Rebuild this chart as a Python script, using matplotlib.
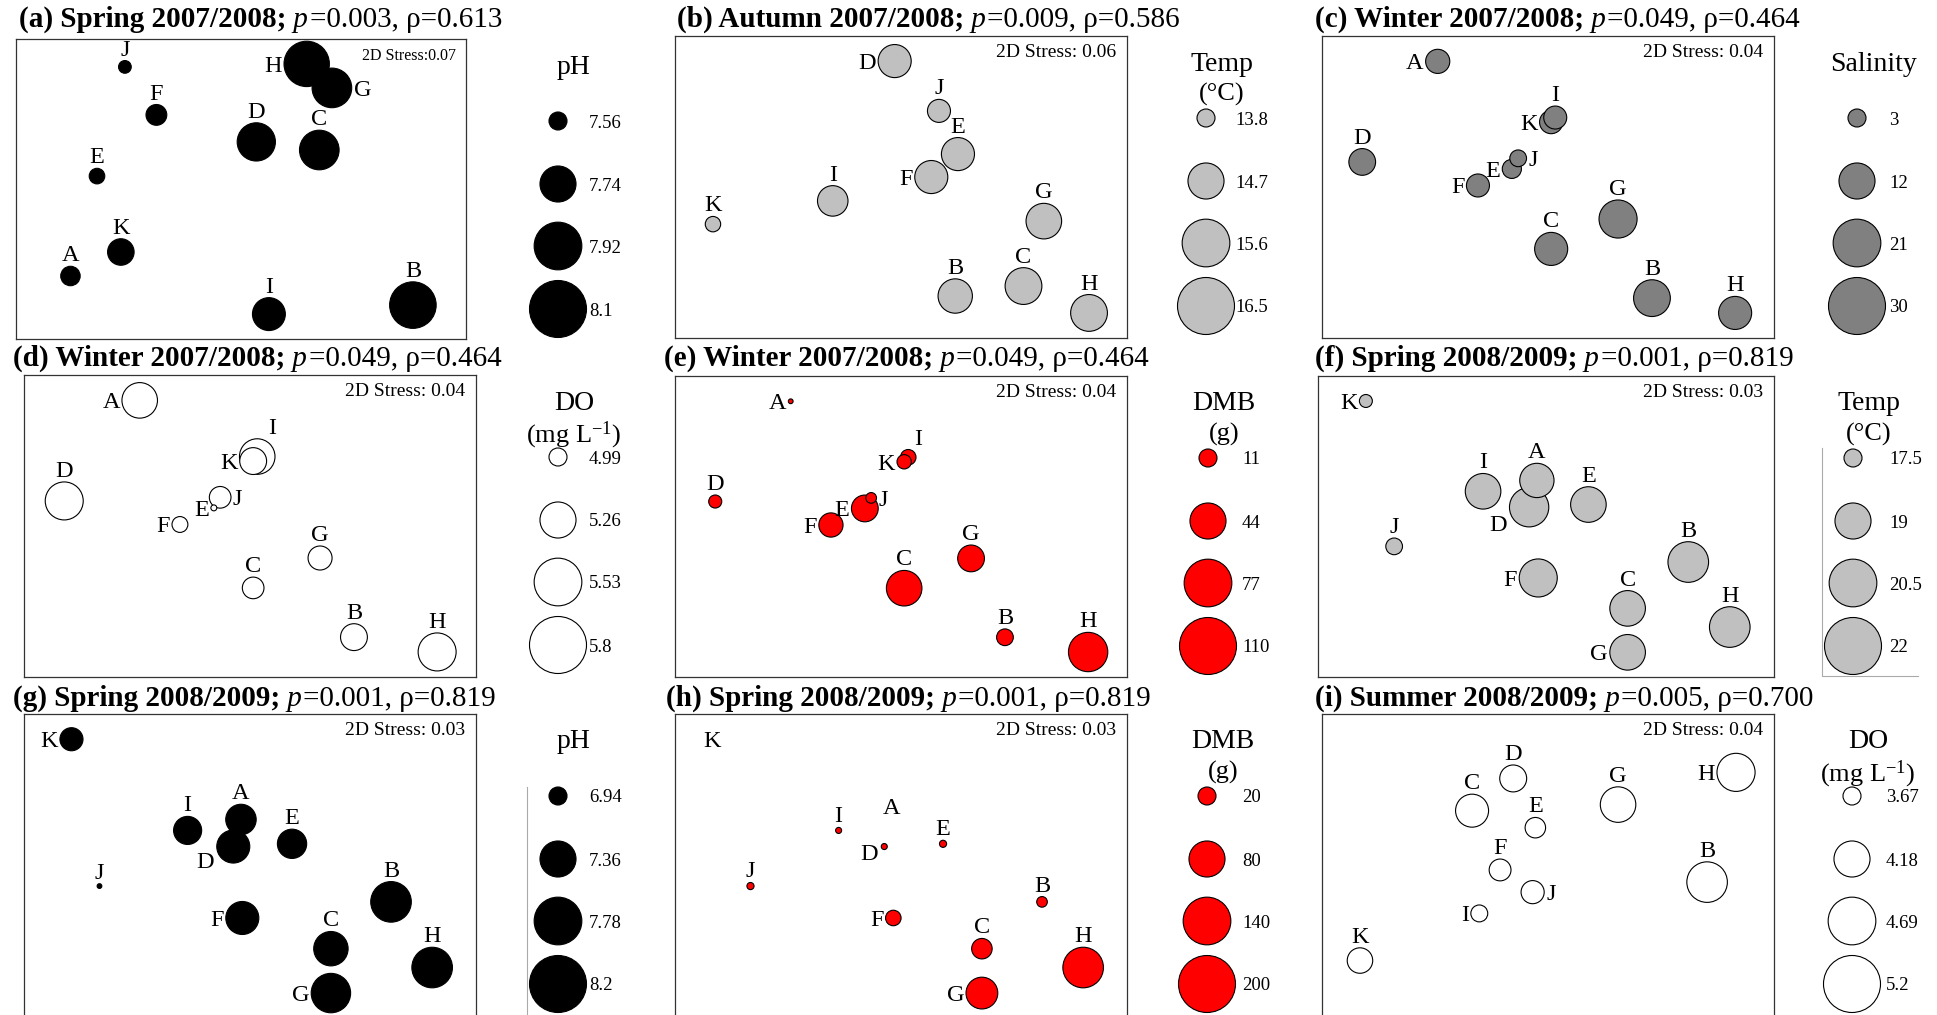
import numpy as np
import matplotlib
matplotlib.use("Agg")
import matplotlib.pyplot as plt

plt.rcParams['font.family'] = ['Liberation Serif', 'DejaVu Serif']
plt.rcParams['mathtext.fontset'] = 'custom'
plt.rcParams['mathtext.rm'] = 'Liberation Serif'
plt.rcParams['mathtext.it'] = 'Liberation Serif:italic'

W, H = 1937, 1015

sites = ['A', 'B', 'C', 'D', 'E', 'F', 'G', 'H', 'I', 'J', 'K']
sites_noA = sites[1:]

# nMDS configurations (0-1 across, 0-1 upward)
spring0708_x = [0.121, 0.882, 0.674, 0.534, 0.180, 0.312, 0.702, 0.646, 0.562, 0.242, 0.233]
spring0708_y = [0.210, 0.113, 0.630, 0.657, 0.543, 0.747, 0.837, 0.917, 0.083, 0.907, 0.290]

autumn0708_x = [0.620, 0.771, 0.486, 0.626, 0.567, 0.816, 0.916, 0.349, 0.584, 0.084]
autumn0708_y = [0.139, 0.172, 0.917, 0.609, 0.533, 0.387, 0.083, 0.454, 0.752, 0.377]

winter0708_x = [0.256, 0.730, 0.507, 0.089, 0.420, 0.345, 0.655, 0.914, 0.516, 0.434, 0.507]
winter0708_y = [0.916, 0.132, 0.295, 0.583, 0.560, 0.505, 0.394, 0.083, 0.730, 0.595, 0.715]

spring0809_x = [0.480, 0.812, 0.679, 0.463, 0.593, 0.483, 0.679, 0.903, 0.362, 0.167, 0.105]
spring0809_y = [0.653, 0.382, 0.228, 0.564, 0.573, 0.329, 0.082, 0.166, 0.617, 0.434, 0.917]

summer0809_x = [0.852, 0.332, 0.423, 0.472, 0.394, 0.655, 0.916, 0.348, 0.466, 0.084]
summer0809_y = [0.447, 0.682, 0.788, 0.626, 0.487, 0.702, 0.808, 0.344, 0.414, 0.189]

# environmental variables per site
ph_spring0708 = [7.57, 7.90, 7.79, 7.77, 7.545, 7.58, 7.79, 7.88, 7.70, 7.53, 7.63]
temp_autumn0708 = [14.59, 14.75, 14.51, 14.51, 14.51, 14.67, 14.75, 14.36, 13.99, 13.72]
sal_winter0708 = [5.4, 12.5, 10.1, 6.6, 3.4, 4.9, 13.4, 10.1, 4.9, 2.6, 5.0]
do_winter0708 = [5.25, 5.10, 5.03, 5.30, 4.91, 4.97, 5.06, 5.30, 5.25, 5.03, 5.10]
dmb_winter0708 = [0.8, 9.5, 42.8, 5.8, 24.3, 19.9, 24.3, 52.4, 8.2, 3.9, 7.0]
temp_spring0809 = [18.81, 19.54, 18.95, 19.38, 18.95, 19.23, 18.95, 19.54, 18.95, 17.43, 17.26]
ph_spring0809 = [7.20, 7.51, 7.31, 7.27, 7.17, 7.27, 7.47, 7.51, 7.14, 6.81, 7.03]
dmb_spring0809 = [0.0, 7.0, 25.9, 2.3, 3.2, 14.9, 62.2, 101.5, 2.3, 3.2, 0.0]
do_summer0809 = [4.36, 4.07, 3.88, 3.72, 3.75, 4.16, 4.26, 3.65, 3.78, 3.84]

# bubble legends
leg_ph0708 = [7.56, 7.74, 7.92, 8.1]
leg_temp0708 = [13.8, 14.7, 15.6, 16.5]
leg_sal = [3, 12, 21, 30]
leg_do0708 = [4.99, 5.26, 5.53, 5.8]
leg_dmb0708 = [11, 44, 77, 110]
leg_temp0809 = [17.5, 19, 20.5, 22]
leg_ph0809 = [6.94, 7.36, 7.78, 8.2]
leg_dmb0809 = [20, 80, 140, 200]
leg_do0809 = [3.67, 4.18, 4.69, 5.2]

# label side for each site (style only)
lab_a = dict(A='up', B='up', C='up', D='up', E='up', F='up', G='right', H='left', I='up', J='up', K='up')
lab_b = dict(B='up', C='up', D='left', E='up', F='left', G='up', H='up', I='up', J='up', K='up')
lab_c = dict(A='left', B='up', C='up', D='up', E='left', F='left', G='up', H='up', I='up', J='right', K='left')
lab_de = dict(A='left', B='up', C='up', D='up', E='left', F='left', G='up', H='up', I='upright', J='right', K='left')
lab_fgh = dict(A='up', B='up', C='up', D='downleft', E='up', F='left', G='left', H='up', I='up', J='up', K='left')
lab_i = dict(B='up', C='up', D='up', E='up', F='up', G='up', H='left', I='left', J='right', K='up')

panels = [
    # key, season, p, rho, stress, box(px), x, y, names, values, legend, fill, labels,
    # legend title, legend bubble x, legend text x, title x
    ('a', 'Spring 2007/2008', '0.003', '0.613', '2D Stress:0.07', (16, 39, 466, 339),
     spring0708_x, spring0708_y, sites, ph_spring0708, leg_ph0708, 'black', lab_a, ['pH'], 558, 589, 19),
    ('b', 'Autumn 2007/2008', '0.009', '0.586', '2D Stress: 0.06', (675, 36, 1127, 338),
     autumn0708_x, autumn0708_y, sites_noA, temp_autumn0708, leg_temp0708, '#c0c0c0', lab_b,
     ['Temp', '(°C)'], 1206, 1235, 677),
    ('c', 'Winter 2007/2008', '0.049', '0.464', '2D Stress: 0.04', (1322, 36, 1774, 338),
     winter0708_x, winter0708_y, sites, sal_winter0708, leg_sal, '#808080', lab_c, ['Salinity'],
     1857, 1889, 1315),
    ('d', 'Winter 2007/2008', '0.049', '0.464', '2D Stress: 0.04', (24, 375, 476, 677),
     winter0708_x, winter0708_y, sites, do_winter0708, leg_do0708, 'white', lab_de,
     ['DO', '(mg L$^{-1}$)'], 558, 589, 13),
    ('e', 'Winter 2007/2008', '0.049', '0.464', '2D Stress: 0.04', (675, 376, 1127, 677),
     winter0708_x, winter0708_y, sites, dmb_winter0708, leg_dmb0708, '#ff0000', lab_de,
     ['DMB', '(g)'], 1208, 1242, 664),
    ('f', 'Spring 2008/2009', '0.001', '0.819', '2D Stress: 0.03', (1318, 376, 1774, 677),
     spring0809_x, spring0809_y, sites, temp_spring0809, leg_temp0809, '#c0c0c0', lab_fgh,
     ['Temp', '(°C)'], 1853, 1889, 1315),
    ('g', 'Spring 2008/2009', '0.001', '0.819', '2D Stress: 0.03', (24, 714, 476, 1018),
     spring0809_x, spring0809_y, sites, ph_spring0809, leg_ph0809, 'black', lab_fgh, ['pH'], 558, 589, 13),
    ('h', 'Spring 2008/2009', '0.001', '0.819', '2D Stress: 0.03', (675, 714, 1127, 1018),
     spring0809_x, spring0809_y, sites, dmb_spring0809, leg_dmb0809, '#ff0000', lab_fgh,
     ['DMB', '(g)'], 1207, 1242, 666),
    ('i', 'Summer 2008/2009', '0.005', '0.700', '2D Stress: 0.04', (1322, 714, 1774, 1018),
     summer0809_x, summer0809_y, sites_noA, do_summer0809, leg_do0809, 'white', lab_i,
     ['DO', '(mg L$^{-1}$)'], 1852, 1886, 1315),
]

PT = 0.72  # points per pixel at dpi 100


def bubble_w(v, leg):
    # bubble area linear in the variable, legend runs from 18 px to 57 px across
    a = 18.0 ** 2 + (np.asarray(v, float) - leg[0]) / (leg[-1] - leg[0]) * (57.0 ** 2 - 18.0 ** 2)
    return np.sqrt(np.clip(a, 0, None))


def label_pos(kind, r):
    if kind == 'up':
        return (0, r), 'center', 'bottom'
    if kind == 'left':
        return (-r - 2, 0), 'right', 'center_baseline'
    if kind == 'right':
        return (r + 2, 0), 'left', 'center_baseline'
    if kind == 'upright':
        return (0.5 * r + 6, r), 'center', 'bottom'
    return (-r - 3, -0.6 * r - 4), 'right', 'center_baseline'


fig = plt.figure(figsize=(W / 100, H / 100), dpi=100)
ov = fig.add_axes([0, 0, 1, 1])
ov.set_xlim(0, W)
ov.set_ylim(H, 0)
ov.axis('off')

row_base = {36: 27, 39: 27, 375: 366, 376: 366, 714: 706}

for (key, season, p, rho, stress, box, xs, ys, names, vals, leg, fill, labs,
     ltitle, lx, ltx, tx) in panels:
    l, tp, r, b = box
    ax = fig.add_axes([l / W, 1 - b / H, (r - l) / W, (b - tp) / H])
    ax.set_xlim(0, 1)
    ax.set_ylim(0, 1)
    ax.set_xticks([])
    ax.set_yticks([])
    for sp in ax.spines.values():
        sp.set_linewidth(0.9)
        sp.set_color('#333333')

    vals = np.asarray(vals, float)
    w = bubble_w(vals, leg)
    order = np.argsort(-w, kind='stable')
    keep = [k for k in order if vals[k] > 0 and w[k] > 0]
    ax.scatter(np.array(xs)[keep], np.array(ys)[keep], s=(PT * w[keep]) ** 2,
               marker='o', c=fill, edgecolors='black', linewidths=0.8, zorder=3)
    for k, nm in enumerate(names):
        rad = w[k] / 2 if vals[k] > 0 else 0
        (dx, dy), ha, va = label_pos(labs[nm], rad)
        ax.annotate(nm, (xs[k], ys[k]), xytext=(dx * PT, dy * PT), textcoords='offset points',
                    ha=ha, va=va, fontsize=17.5, zorder=4)

    ax.annotate(stress, (1, 1), xycoords='axes fraction', xytext=(-7.5, -12),
                textcoords='offset points', ha='right', va='center',
                fontsize=11.5 if key == 'a' else 14)

    # panel title: bold / italic / regular pieces chained together
    yb = row_base[tp]
    t1 = ov.text(tx, yb, '(%s) %s;' % (key, season), fontsize=21, fontweight='bold',
                 ha='left', va='baseline')
    t2 = ov.annotate(' p', (1, 0), xycoords=t1, ha='left', va='bottom',
                     fontsize=21, fontstyle='italic')
    ov.annotate('=%s, ρ=%s' % (p, rho), (1, 0), xycoords=t2, xytext=(1, 0),
                textcoords='offset points', ha='left', va='bottom', fontsize=21)

    # bubble legend
    ly = tp + np.array([82, 145, 207, 270])
    lw = bubble_w(leg, leg)
    ov.scatter(np.full(4, lx), ly, s=(PT * lw) ** 2, marker='o', c=fill,
               edgecolors='black', linewidths=0.8, zorder=3)
    for v, yy in zip(leg, ly):
        ov.text(ltx, yy, '%g' % v, fontsize=13.5, ha='left', va='center_baseline')
    for j, line in enumerate(ltitle):
        ov.text(lx + 16, tp + 25 + 31 * j, line, fontsize=20 if j == 0 else 19,
                ha='center', va='center_baseline')

# stray frame lines beside two of the legends
ov.plot([1822, 1822, 1918], [448, 676, 676], color='#aaaaaa', lw=0.8)
ov.plot([527, 527], [787, 1015], color='#aaaaaa', lw=0.8)

fig.savefig('out.png', dpi=100)
